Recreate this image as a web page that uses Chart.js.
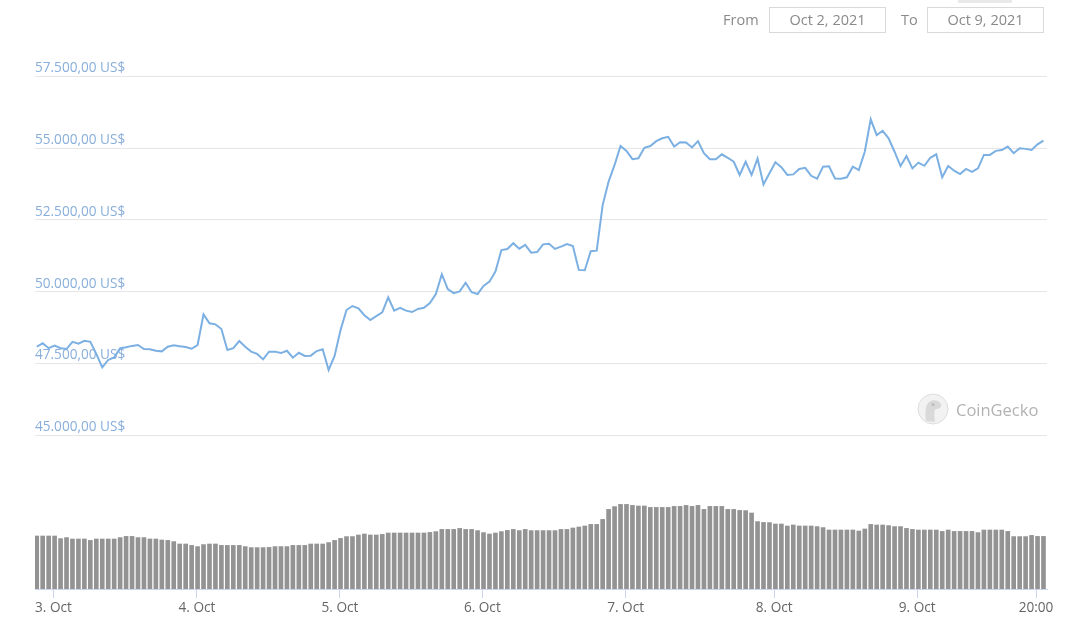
<!DOCTYPE html>
<html>
<head>
<meta charset="utf-8">
<title>BTC price chart</title>
<script src="https://cdn.jsdelivr.net/npm/chart.js@4.4.0/dist/chart.umd.min.js"></script>
<style>
    body { margin: 0; background: #fff; font-family: 'Open Sans', sans-serif; }
    #wrap { position: relative; width: 1071px; height: 628px; overflow: hidden; }
    #chart { position: absolute; left: 0; top: 0; }
    .lbl { position: absolute; top: 10px; font-size: 14.5px; line-height: 20px; color: #8a8a8a; }
    .box { position: absolute; top: 7px; width: 115px; height: 24px; border: 1px solid #d9d9d9;
           font-size: 14.5px; line-height: 24px; color: #8a8a8a; text-align: center; }
    #tab { position: absolute; left: 958px; top: 0; width: 54px; height: 3px; background: #e9e9e9; }
    #logo { position: absolute; left: 917px; top: 393px; }
    #brand { position: absolute; left: 956px; top: 399px; font-size: 16.5px; line-height: 22px; color: #b3b3b3; }
</style>
</head>
<body>
<div id="wrap">
    <canvas id="chart" width="1071" height="628"></canvas>
    <div class="lbl" style="left:723px">From</div>
    <div class="box" style="left:769px">Oct 2, 2021</div>
    <div class="lbl" style="left:901px">To</div>
    <div class="box" style="left:927px">Oct 9, 2021</div>
    <div id="tab"></div>
    <svg id="logo" width="32" height="32" viewBox="0 0 32 32">
        <circle cx="16" cy="16" r="15" fill="#f2f2f2" stroke="#dddddd" stroke-width="1"/>
        <path d="M9 28 C8 20 8 13 12 9 C16 6 22 7 24 11 C25 14 22 16 19 16 C17 17 17 22 18 29 Z" fill="#d9d9d9"/>
        <circle cx="16" cy="11.5" r="1.6" fill="#bdbdbd"/>
    </svg>
    <div id="brand">CoinGecko</div>
</div>
<script>
// hourly points, Oct 2 ~21:10 to Oct 9 ~21:10
const prices = [
    48080, 48200, 48030, 48120, 48030, 48000, 48250, 48190, 48290, 48250,
    47830, 47360, 47620, 47710, 48030, 48060, 48110, 48140, 48000, 47990,
    47940, 47920, 48080, 48130, 48100, 48070, 48010, 48140, 49210, 48900,
    48860, 48700, 47970, 48030, 48280, 48080, 47910, 47830, 47640, 47910,
    47910, 47860, 47940, 47700, 47870, 47760, 47770, 47930, 47990, 47270,
    47760, 48660, 49360, 49500, 49420, 49180, 49010, 49150, 49280, 49800,
    49340, 49440, 49340, 49290, 49400, 49440, 49600, 49920, 50610, 50090,
    49950, 50010, 50310, 49980, 49920, 50200, 50350, 50700, 51450, 51490,
    51690, 51500, 51630, 51360, 51380, 51650, 51670, 51490, 51570, 51660,
    51590, 50760, 50750, 51410, 51430, 53020, 53840, 54420, 55080, 54910,
    54620, 54650, 55020, 55080, 55250, 55350, 55400, 55060, 55210, 55200,
    55030, 55250, 54830, 54620, 54620, 54790, 54670, 54530, 54070, 54530,
    54070, 54640, 53740, 54130, 54510, 54340, 54070, 54090, 54280, 54320,
    54040, 53940, 54360, 54370, 53950, 53940, 53990, 54360, 54240, 54880,
    56010, 55460, 55610, 55350, 54880, 54380, 54730, 54300, 54500, 54390,
    54670, 54790, 53990, 54380, 54220, 54100, 54280, 54180, 54300, 54770,
    54770, 54910, 54940, 55060, 54830, 55000, 54980, 54940, 55140, 55270
];

// total volume, billions US$
const volumes = [
    26.5, 26.5, 26.5, 26.5, 25.2, 25.7, 25.0, 25.0, 25.0, 24.3,
    25.0, 25.0, 25.0, 25.0, 25.7, 26.3, 26.3, 25.7, 25.7, 25.0,
    25.0, 24.5, 24.3, 23.7, 22.5, 22.5, 21.8, 21.2, 22.2, 22.5,
    22.5, 21.8, 21.8, 21.8, 21.8, 21.2, 20.7, 20.7, 20.7, 20.8,
    21.2, 21.2, 21.2, 21.8, 21.8, 21.8, 22.5, 22.5, 22.5, 23.2,
    24.3, 25.3, 26.2, 26.2, 27.0, 27.5, 27.0, 27.0, 27.3, 28.0,
    28.0, 28.0, 28.0, 28.0, 28.0, 28.0, 28.3, 28.7, 29.8, 29.8,
    29.8, 30.3, 29.8, 29.8, 29.2, 28.2, 27.5, 28.0, 28.7, 29.3,
    29.8, 29.2, 29.8, 29.2, 29.2, 29.2, 29.2, 29.2, 29.8, 29.8,
    30.5, 31.0, 31.5, 32.3, 32.3, 34.8, 39.8, 41.2, 42.3, 42.3,
    41.8, 41.5, 41.5, 40.8, 40.8, 40.8, 40.8, 41.3, 41.3, 41.8,
    41.3, 41.8, 39.8, 41.3, 41.3, 41.3, 39.8, 39.8, 39.3, 39.2,
    38.0, 33.7, 33.3, 33.2, 32.5, 32.5, 31.5, 32.0, 31.5, 31.5,
    31.5, 31.2, 30.7, 29.5, 29.5, 29.5, 29.5, 29.5, 29.0, 30.0,
    32.3, 32.0, 32.0, 31.7, 31.2, 31.2, 30.3, 29.8, 29.5, 29.5,
    29.5, 29.5, 28.8, 29.5, 28.8, 28.8, 28.8, 28.8, 28.2, 29.5,
    29.5, 29.5, 29.5, 28.8, 26.2, 26.2, 26.2, 26.8, 26.3, 26.3
];

// x ticks, in hours from the first point
const tickPositions = [2.8, 26.9, 50.9, 74.8, 98.85, 123.8, 147.8, 167.75];
const tickLabels = ['3. Oct', '4. Oct', '5. Oct', '6. Oct', '7. Oct', '8. Oct', '9. Oct', '20:00'];

const priceTicks = [45000, 47500, 50000, 52500, 55000, 57500];

const hours = prices.map((p, i) => i);
const FONT = "'Open Sans', sans-serif";

function formatUsd(v) {
    const s = Math.round(v).toString().replace(/\B(?=(\d{3})+(?!\d))/g, '.');
    return s + ',00 US$';
}

new Chart(document.getElementById('chart'), {
    data: {
        labels: hours,
        datasets: [
            {
                type: 'line',
                data: prices,
                yAxisID: 'y',
                borderColor: '#7cb0e3',
                borderWidth: 2,
                pointRadius: 0,
                tension: 0,
                order: 1
            },
            {
                type: 'bar',
                data: volumes,
                yAxisID: 'yv',
                backgroundColor: '#939393',
                barThickness: 4,
                order: 2
            }
        ]
    },
    options: {
        responsive: false,
        animation: false,
        devicePixelRatio: 1,
        layout: { padding: { left: 35, right: 24, top: 30, bottom: 0 } },
        plugins: { legend: { display: false }, tooltip: { enabled: false } },
        scales: {
            x: {
                type: 'linear',
                offset: false,
                min: -0.29,
                max: 169.59,
                afterBuildTicks: scale => { scale.ticks = tickPositions.map(v => ({ value: v })); },
                afterFit: scale => { scale.height = 39; },
                ticks: {
                    callback: (v, i) => tickLabels[i],
                    color: '#666',
                    font: { family: FONT, size: 13.6 },
                    padding: 2,
                    maxRotation: 0,
                    autoSkip: false
                },
                grid: { offset: false, drawOnChartArea: false, drawTicks: true, tickLength: 9, color: '#ccd6eb' },
                border: { color: '#ccd6eb' }
            },
            y: {
                position: 'left',
                min: 39633,
                max: 59125,
                afterBuildTicks: scale => { scale.ticks = priceTicks.map(v => ({ value: v })); },
                ticks: {
                    mirror: true,
                    padding: 0,
                    labelOffset: -8,
                    color: '#88aedb',
                    font: { family: FONT, size: 13.6 },
                    callback: v => formatUsd(v)
                },
                grid: { color: '#e6e6e6', drawTicks: false },
                border: { display: false }
            },
            yv: {
                position: 'right',
                display: false,
                min: 0,
                max: 279.5
            }
        }
    }
});
</script>
</body>
</html>
